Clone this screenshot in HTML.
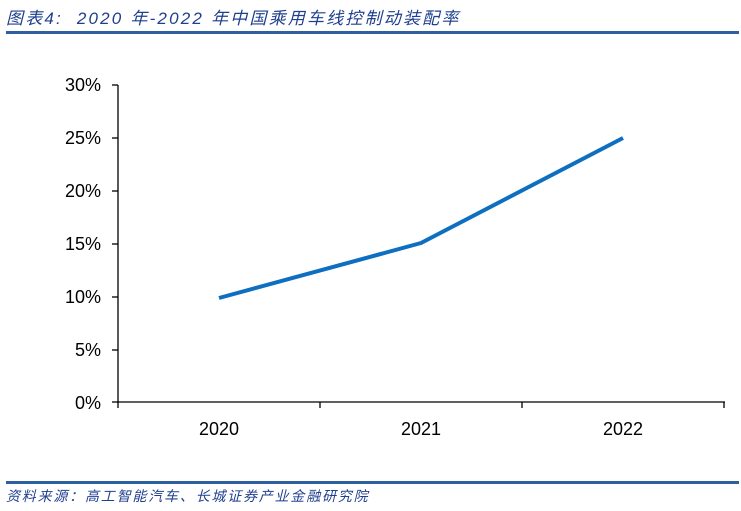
<!DOCTYPE html>
<html><head><meta charset="utf-8"><style>
body{margin:0;width:741px;height:511px;background:#fff;overflow:hidden;position:relative;font-family:"Liberation Sans","Noto Sans CJK SC",sans-serif}
.t{position:absolute;left:6px;top:4px;font-size:17px;font-style:italic;color:#1f3f8f;white-space:nowrap;letter-spacing:2.2px}
.s{position:absolute;left:6px;top:486px;font-size:14px;font-style:italic;color:#1f3f8f;white-space:nowrap;letter-spacing:1.8px}
.l{position:absolute;left:6px;width:733px;height:2px;background:#2e5f9e}
</style></head><body>
<div class="t">图表4:&nbsp; 2020 年-2022 年中国乘用车线控制动装配率</div>
<div class="l" style="top:31px;height:3px"></div>
<div class="l" style="top:481px;height:3px"></div>
<div class="s">资料来源：高工智能汽车、长城证券产业金融研究院</div>
<svg width="741" height="511" style="position:absolute;left:0;top:0" font-family="Liberation Sans, sans-serif" font-size="18" fill="#000">
<g stroke="#000" stroke-width="1.3">
<line x1="118" y1="85" x2="118" y2="403"/>
<line x1="118" y1="402" x2="725" y2="402"/>
<line x1="112" y1="85" x2="118" y2="85"/><line x1="112" y1="138" x2="118" y2="138"/><line x1="112" y1="191" x2="118" y2="191"/><line x1="112" y1="244" x2="118" y2="244"/><line x1="112" y1="297" x2="118" y2="297"/><line x1="112" y1="350" x2="118" y2="350"/><line x1="112" y1="402" x2="118" y2="402"/>
<line x1="118" y1="402" x2="118" y2="408"/><line x1="320" y1="402" x2="320" y2="408"/><line x1="522" y1="402" x2="522" y2="408"/><line x1="724" y1="402" x2="724" y2="408"/>
</g>
<g text-anchor="end">
<text x="101" y="91">30%</text><text x="101" y="144">25%</text><text x="101" y="197">20%</text><text x="101" y="250">15%</text><text x="101" y="303">10%</text><text x="101" y="356">5%</text><text x="101" y="409">0%</text>
</g>
<g text-anchor="middle"><text x="219" y="435">2020</text><text x="421" y="435">2021</text><text x="623" y="435">2022</text></g>
<polyline points="219,298 421,243 623,138" fill="none" stroke="#0e6fc1" stroke-width="4" stroke-linejoin="round"/>
</svg>
</body></html>
